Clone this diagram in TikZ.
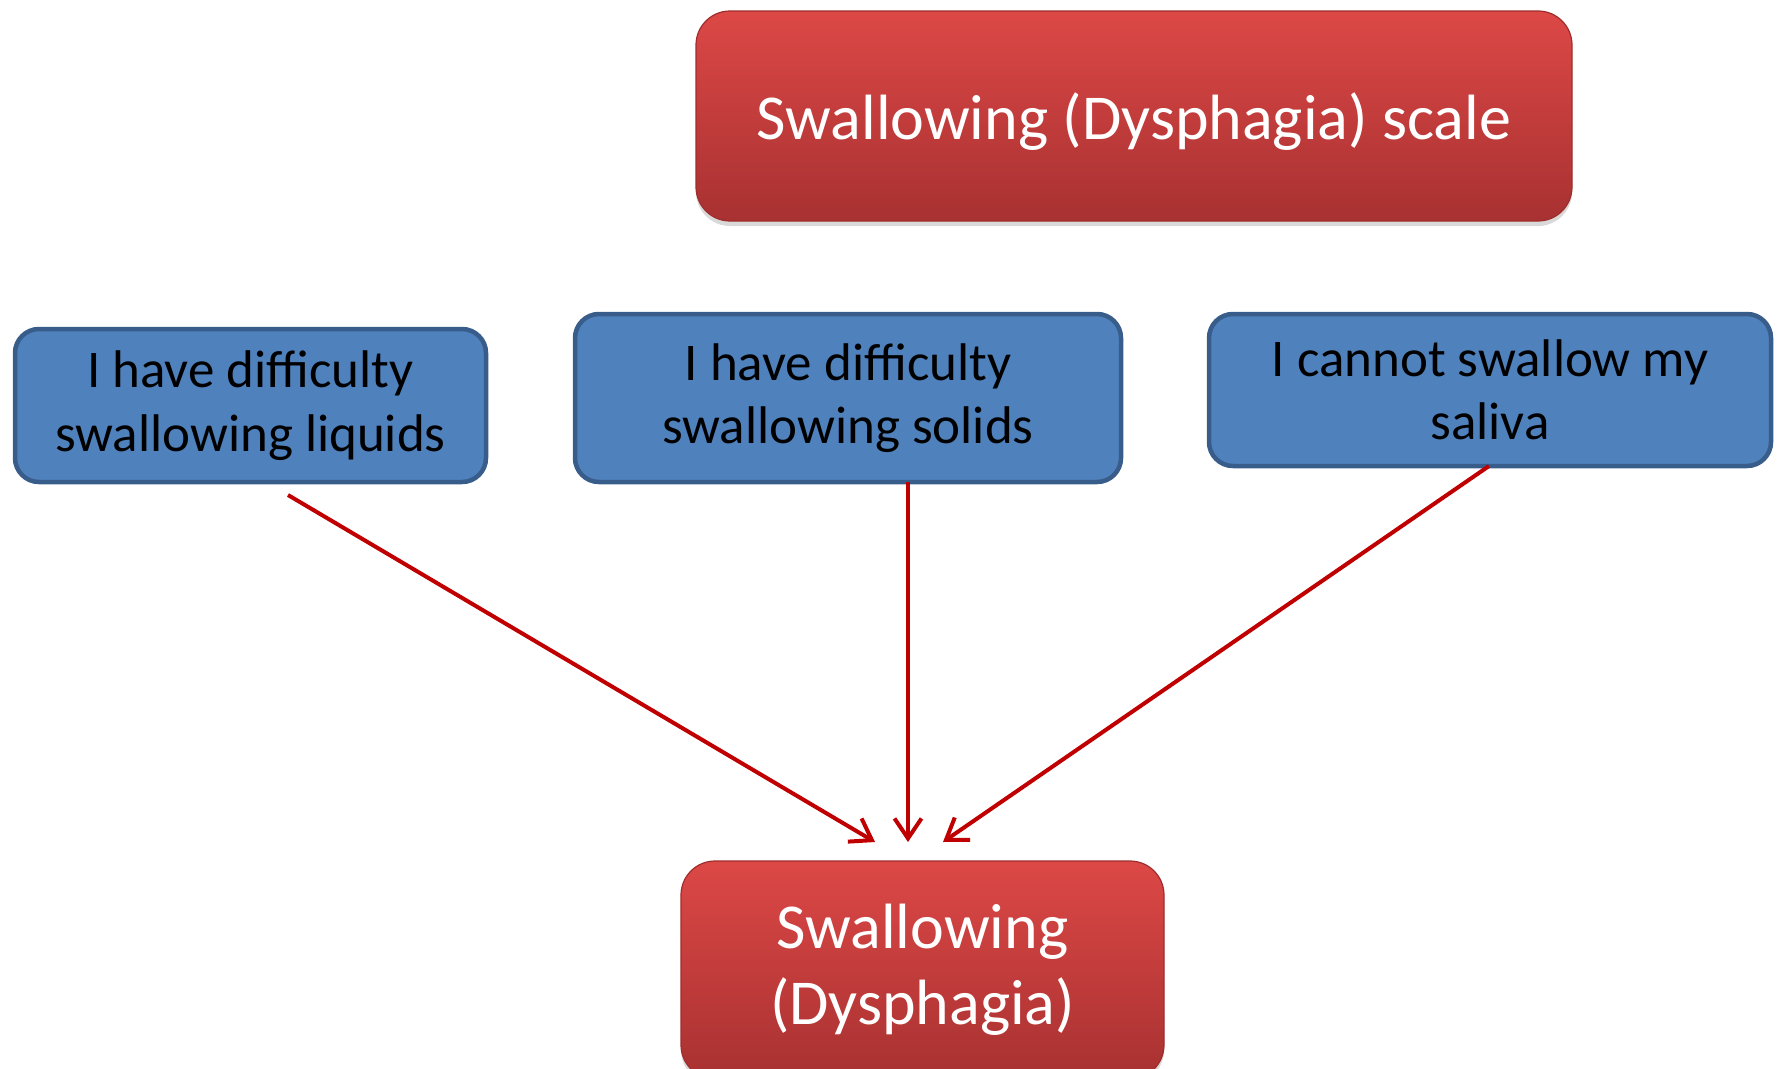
\documentclass[tikz,border=0pt]{standalone}
\usepackage{fontspec}
\setmainfont{Carlito}
\usetikzlibrary{arrows.meta,shadows}
\definecolor{boxred}{RGB}{220,72,70}
\definecolor{boxreddark}{RGB}{168,49,49}
\definecolor{rededge}{RGB}{160,45,45}
\definecolor{boxblue}{RGB}{79,129,189}
\definecolor{blueedge}{RGB}{56,93,138}
\definecolor{arrowred}{RGB}{192,0,0}
\begin{document}
\begin{tikzpicture}[x=1pt,y=-1pt,
  redbox/.style={rectangle, rounded corners=34pt, top color=boxred, bottom color=boxreddark,
    draw=rededge, line width=1.2pt, text=white, align=center, inner sep=0pt,
    drop shadow={opacity=0.3, shadow xshift=0pt, shadow yshift=-5pt}},
  bluebox/.style={rectangle, rounded corners=24pt, fill=boxblue, draw=blueedge,
    line width=4.5pt, text=black, align=center, inner sep=0pt,
    font=\fontsize{53}{63.5}\selectfont},
  link/.style={draw=arrowred, line width=4pt, -{Straight Barb[length=20pt,width=27pt,line width=4pt]}}]
\useasboundingbox (0,0) rectangle (1777,1068);

% title and result boxes
\node[redbox, minimum width=876pt, minimum height=210pt, font=\fontsize{64}{76}\selectfont,
  text height=62pt, text depth=16pt]
  (title) at (1134,116) {Swallowing (Dysphagia) scale};
\node[redbox, minimum width=483pt, minimum height=218pt, font=\fontsize{64}{76}\selectfont]
  (result) at (922.5,970) {Swallowing\\(Dysphagia)};

% the three statements
\node[bluebox, minimum width=471pt, minimum height=153pt] (liquids) at (250.5,405.5)
  {I have difficulty\\swallowing liquids};
\node[bluebox, minimum width=546pt, minimum height=168pt] (solids) at (848,398)
  {I have difficulty\\swallowing solids};
\node[bluebox, minimum width=562pt, minimum height=152pt] (saliva) at (1490,390)
  {I cannot swallow my\\saliva};

% connector ends
\coordinate (s1) at (288,495);
\coordinate (e1) at (875,842);
\coordinate (s2) at (908,482);
\coordinate (e2) at (908,842);
\coordinate (s3) at (1489,466);
\coordinate (e3) at (943,842);

\draw[link] (s1) -- (e1);
\draw[link] (s2) -- (e2);
\draw[link] (s3) -- (e3);
\end{tikzpicture}
\end{document}
